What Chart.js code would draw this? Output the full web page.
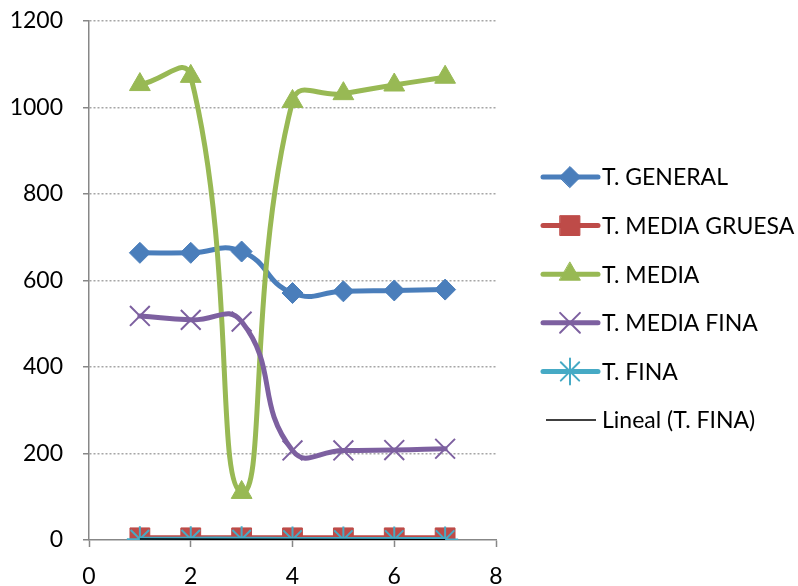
<!DOCTYPE html>
<html>
<head>
<meta charset="utf-8">
<script src="https://cdn.jsdelivr.net/npm/chart.js@4/dist/chart.umd.min.js"></script>
<style>
  html, body { margin: 0; padding: 0; background: #ffffff; }
  #wrap { width: 798px; height: 586px; position: relative; }
</style>
</head>
<body>
<div id="wrap"><canvas id="chart"></canvas></div>
<script>
// Sample positions and measured values per series
const xValues      = [1, 2, 3, 4, 5, 6, 7];
const tGeneral     = [664, 664, 667, 571, 575, 577, 579];
const tMediaGruesa = [5, 5, 5, 5, 5, 5, 5];
const tMedia       = [1053, 1072, 110, 1014, 1032, 1052, 1070];
const tMediaFina   = [518, 509, 505, 207, 207, 208, 211];
const tFina        = [2, 2, 2, 1, 1, 1, 1];
const seriesNames  = ['T. GENERAL', 'T. MEDIA GRUESA', 'T. MEDIA', 'T. MEDIA FINA', 'T. FINA', 'Lineal (T. FINA)'];
const xTicks = [0, 2, 4, 6, 8];
const yTicks = [0, 200, 400, 600, 800, 1000, 1200];

const FONT = 'Lato, "Open Sans", sans-serif';
const FONT_SIZE = 23;

function toPoints(ys) {
  return xValues.map((x, i) => ({ x: x, y: ys[i] }));
}

// Least-squares linear trend of T. FINA, drawn across the sampled range
function linearTrend(xs, ys) {
  const n = xs.length;
  const mx = xs.reduce((a, b) => a + b, 0) / n;
  const my = ys.reduce((a, b) => a + b, 0) / n;
  let sxy = 0, sxx = 0;
  for (let i = 0; i < n; i++) {
    sxy += (xs[i] - mx) * (ys[i] - my);
    sxx += (xs[i] - mx) * (xs[i] - mx);
  }
  const slope = sxx ? sxy / sxx : 0;
  const first = xs[0], last = xs[n - 1];
  return [
    { x: first, y: my + slope * (first - mx) },
    { x: last,  y: my + slope * (last - mx) }
  ];
}

function series(label, ys, color, style, radius, extra) {
  return Object.assign({
    label: label,
    data: toPoints(ys),
    showLine: true,
    borderColor: color,
    backgroundColor: color,
    borderWidth: 5,
    borderCapStyle: 'round',
    borderJoinStyle: 'round',
    tension: 0.5,
    pointStyle: style,
    pointRadius: radius,
    pointHoverRadius: radius,
    pointBackgroundColor: color,
    pointBorderColor: color,
    pointBorderWidth: 1,
    legendLineWidth: 5
  }, extra || {});
}

const datasets = [
  series(seriesNames[0], tGeneral,     '#4A7EBB', 'rectRot',   10.5, { order: 6 }),
  series(seriesNames[1], tMediaGruesa, '#BE4B48', 'rect',      14,   { order: 5 }),
  series(seriesNames[2], tMedia,       '#98B954', 'triangle',  12,   { order: 4 }),
  series(seriesNames[3], tMediaFina,   '#7D60A0', 'crossRot',  14,   { order: 3, pointBorderWidth: 2 }),
  series(seriesNames[4], tFina,        '#46AAC5', 'star',      13,   { order: 2, pointBorderWidth: 2 }),
  {
    label: seriesNames[5],
    data: linearTrend(xValues, tFina),
    showLine: true,
    borderColor: '#000000',
    backgroundColor: '#000000',
    borderWidth: 1.5,
    pointRadius: 0,
    pointHoverRadius: 0,
    tension: 0,
    order: 1,
    legendLineWidth: 1.5
  }
];

// Legend on the right: line sample, marker, and series name
const sideLegend = {
  id: 'sideLegend',
  afterDraw(chart) {
    const ctx = chart.ctx;
    const lineStart = 543, lineEnd = 598, markX = 570, textX = 602;
    const top = 177, step = 48.6;
    chart.data.datasets.forEach((ds, i) => {
      const y = top + i * step;
      const thick = ds.legendLineWidth > 2;
      ctx.save();
      ctx.strokeStyle = ds.borderColor;
      ctx.lineWidth = ds.legendLineWidth;
      ctx.lineCap = thick ? 'round' : 'butt';
      ctx.beginPath();
      ctx.moveTo(thick ? lineStart : lineStart + 3, y);
      ctx.lineTo(thick ? lineEnd : lineEnd - 2, y);
      ctx.stroke();
      if (ds.pointRadius > 0 && Chart.helpers && Chart.helpers.drawPoint) {
        ctx.fillStyle = ds.pointBackgroundColor;
        ctx.strokeStyle = ds.pointBorderColor;
        ctx.lineWidth = ds.pointBorderWidth;
        Chart.helpers.drawPoint(ctx, {
          pointStyle: ds.pointStyle,
          radius: ds.pointRadius,
          rotation: 0,
          borderWidth: ds.pointBorderWidth
        }, markX, y);
      }
      ctx.fillStyle = '#000000';
      ctx.font = FONT_SIZE + 'px ' + FONT;
      ctx.textAlign = 'left';
      ctx.textBaseline = 'middle';
      ctx.fillText(ds.label, textX, y + 1);
      ctx.restore();
    });
  }
};

new Chart(document.getElementById('chart'), {
  type: 'scatter',
  data: { datasets: datasets },
  plugins: [sideLegend],
  options: {
    responsive: true,
    maintainAspectRatio: false,
    animation: false,
    events: [],
    layout: { padding: { top: 21, right: 302, bottom: 0, left: 0 } },
    plugins: {
      legend: { display: false },
      tooltip: { enabled: false }
    },
    scales: {
      x: {
        type: 'linear',
        min: xTicks[0],
        max: xTicks[xTicks.length - 1],
        afterBuildTicks(scale) { scale.ticks = xTicks.map(v => ({ value: v })); },
        afterFit(scale) { scale.height = 46; scale.paddingLeft = 0; scale.paddingRight = 0; },
        ticks: {
          color: '#000000',
          font: { family: FONT, size: FONT_SIZE },
          padding: 16,
          maxRotation: 0,
          callback: (v) => String(v)
        },
        grid: {
          drawOnChartArea: false,
          drawTicks: true,
          tickLength: 7,
          tickColor: '#878787',
          tickWidth: 1.5
        },
        border: { display: true, color: '#878787', width: 1.5 }
      },
      y: {
        type: 'linear',
        min: yTicks[0],
        max: yTicks[yTicks.length - 1],
        afterBuildTicks(scale) { scale.ticks = yTicks.map(v => ({ value: v })); },
        afterFit(scale) { scale.width = 89; scale.paddingTop = 0; scale.paddingBottom = 0; },
        ticks: {
          color: '#000000',
          font: { family: FONT, size: FONT_SIZE },
          padding: 20,
          callback: (v) => String(v)
        },
        grid: {
          drawOnChartArea: true,
          drawTicks: true,
          tickLength: 6,
          color: (c) => (c.tick && c.tick.value === 0) ? 'rgba(0,0,0,0)' : '#A6A6A6',
          lineWidth: 1.5,
          tickColor: '#878787',
          tickWidth: 1.5,
          tickBorderDash: []
        },
        border: { display: true, color: '#878787', width: 1.5, dash: [2, 2] }
      }
    }
  }
});
</script>
</body>
</html>
